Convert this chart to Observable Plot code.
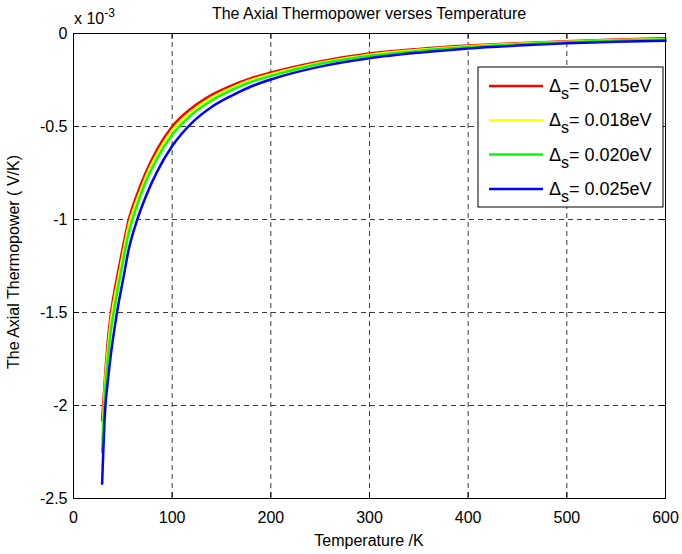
<!DOCTYPE html>
<html>
<head>
<meta charset="utf-8">
<script src="https://cdn.jsdelivr.net/npm/d3@7"></script>
<script src="https://cdn.jsdelivr.net/npm/@observablehq/plot@0.6"></script>
<style>
  html, body { margin: 0; padding: 0; background: white; }
  svg { display: block; }
</style>
</head>
<body>
<div id="chart"></div>
<script>
// Temperature (K)
const temps = [29, 32, 35, 38, 42, 46, 50, 56, 64, 73, 85, 100, 120, 140, 160, 180, 200, 250, 300, 350, 400, 450, 500, 550, 600];
// Axial thermopower (x 10^-3 V/K)
const s015 = [-2.08, -1.84, -1.64, -1.50, -1.37, -1.26, -1.15, -1.00, -0.87, -0.75, -0.62, -0.50, -0.40, -0.33, -0.28, -0.24, -0.21, -0.15, -0.108, -0.083, -0.065, -0.052, -0.041, -0.032, -0.026];
const s018 = [-2.18, -1.88, -1.69, -1.54, -1.41, -1.30, -1.19, -1.03, -0.90, -0.775, -0.645, -0.52, -0.418, -0.345, -0.292, -0.25, -0.219, -0.157, -0.114, -0.088, -0.069, -0.055, -0.044, -0.035, -0.029];
const s020 = [-2.25, -1.93, -1.74, -1.59, -1.46, -1.34, -1.23, -1.07, -0.93, -0.80, -0.67, -0.545, -0.435, -0.36, -0.305, -0.26, -0.228, -0.163, -0.12, -0.093, -0.073, -0.058, -0.047, -0.038, -0.032];
const s025 = [-2.42, -2.03, -1.86, -1.72, -1.57, -1.44, -1.33, -1.16, -1.01, -0.88, -0.74, -0.605, -0.48, -0.395, -0.335, -0.285, -0.247, -0.178, -0.133, -0.103, -0.080, -0.065, -0.053, -0.045, -0.039];

const seriesNames = ["0.015eV", "0.018eV", "0.020eV", "0.025eV"];
const seriesColors = ["#ff0000", "#ffff00", "#00ff00", "#0000ff"];
const seriesValues = [s015, s018, s020, s025];

const xTicks = [0, 100, 200, 300, 400, 500, 600];
const yTicks = [0, -0.5, -1, -1.5, -2, -2.5];
const xGrid = [100, 200, 300, 400, 500];
const yGrid = [-0.5, -1, -1.5, -2];

const data = seriesValues.flatMap((vals, i) =>
  vals.map((v, j) => ({T: temps[j], S: v, name: seriesNames[i], color: seriesColors[i]})));

const font = "'Liberation Sans', Arial, Helvetica, sans-serif";
const fs = 16;

const chart = Plot.plot({
  width: 682,
  height: 554,
  marginLeft: 73,
  marginRight: 17,
  marginTop: 33,
  marginBottom: 56,
  x: {domain: [0, 600]},
  y: {domain: [-2.5, 0]},
  color: {type: "identity"},
  style: {fontFamily: font, fontSize: fs + "px", background: "white", color: "black", overflow: "visible"},
  marks: [
    Plot.ruleX(xGrid, {x: d => d, stroke: "#3a3a3a", strokeWidth: 1, strokeDasharray: "5,4"}),
    Plot.ruleY(yGrid, {y: d => d, stroke: "#3a3a3a", strokeWidth: 1, strokeDasharray: "5,4"}),
    Plot.line(data, {x: "T", y: "S", z: "name", stroke: "color", strokeWidth: 2.5, curve: "monotone-x"}),
    // inward ticks (MATLAB style)
    Plot.ruleX(xTicks, {x: d => d, y1: -2.5, y2: -2.468, stroke: "black"}),
    Plot.ruleX(xTicks, {x: d => d, y1: 0, y2: -0.032, stroke: "black"}),
    Plot.ruleY(yTicks, {y: d => d, x1: 0, x2: 6, stroke: "black"}),
    Plot.ruleY(yTicks, {y: d => d, x1: 600, x2: 594, stroke: "black"}),
    Plot.frame({stroke: "black", strokeWidth: 1}),
    Plot.axisX(xTicks, {tickSize: 0, tickPadding: 13, label: null, fontSize: fs}),
    Plot.axisY(yTicks, {tickSize: 0, tickPadding: 6, label: null, fontSize: fs, tickFormat: d => String(d)})
  ]
});

document.getElementById("chart").appendChild(chart);

const svg = d3.select(chart);
const txt = (x, y, s, anchor = "middle") => svg.append("text")
  .attr("x", x).attr("y", y).attr("text-anchor", anchor)
  .attr("font-family", font).attr("font-size", fs).attr("fill", "black").text(s);

// title
txt(369, 19, "The Axial Thermopower verses Temperature");
// x label
txt(369, 546, "Temperature /K");
// y label
svg.append("text")
  .attr("transform", "translate(19,262) rotate(-90)")
  .attr("text-anchor", "middle")
  .attr("font-family", font).attr("font-size", fs).attr("fill", "black")
  .text("The Axial Thermopower ( V/K)");
// exponent
const ex = svg.append("text").attr("x", 74).attr("y", 24).attr("text-anchor", "start")
  .attr("font-family", font).attr("font-size", fs).attr("fill", "black");
ex.append("tspan").text("x 10");
ex.append("tspan").attr("dy", -7).attr("font-size", 12).text("-3");

// legend
const lg = svg.append("g");
lg.append("rect").attr("x", 478).attr("y", 67).attr("width", 185).attr("height", 140)
  .attr("fill", "white").attr("stroke", "black").attr("stroke-width", 1);
seriesNames.forEach((n, i) => {
  const y = 86 + 34.3 * i;
  lg.append("line").attr("x1", 489).attr("x2", 543).attr("y1", y).attr("y2", y)
    .attr("stroke", seriesColors[i]).attr("stroke-width", 2.5);
  const t = lg.append("text").attr("x", 549).attr("y", y + 6).attr("text-anchor", "start")
    .attr("font-family", font).attr("font-size", 18).attr("fill", "black");
  t.append("tspan").text("Δ");
  t.append("tspan").attr("dy", 7).attr("font-size", 16).text("s");
  t.append("tspan").attr("dy", -7).text("= " + n);
});
</script>
</body>
</html>
